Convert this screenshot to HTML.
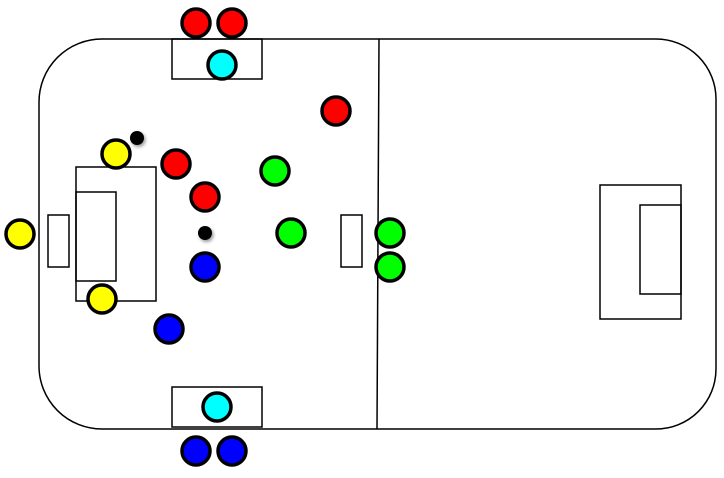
<!DOCTYPE html>
<html><head><style>body{margin:0;background:#fff}</style></head><body>
<svg width="724" height="473" viewBox="0 0 724 473" xmlns="http://www.w3.org/2000/svg">
<defs><filter id="s" x="-1" y="-1" width="3" height="3"><feDropShadow dx="1.5" dy="2" stdDeviation="1.5" flood-opacity="0.4"/></filter></defs>
<g fill="none" stroke="#000" stroke-width="1.5">
<path d="M102,39 H656 A60,60 0 0 1 716,99 V369 A60,60 0 0 1 656,429 H102 A63,63 0 0 1 39,366 V102 A63,63 0 0 1 102,39 Z"/>
<line x1="379" y1="39" x2="377" y2="429"/>
<rect x="172" y="39" width="90" height="40"/>
<rect x="172" y="387" width="90" height="40"/>
<rect x="76" y="167" width="80" height="134"/>
<rect x="76" y="192" width="40" height="89"/>
<rect x="48" y="215" width="21" height="52"/>
<rect x="341" y="215" width="21" height="52"/>
<rect x="600" y="185" width="81" height="134"/>
<rect x="640" y="205" width="41" height="89"/>
</g>
<g stroke="#000" stroke-width="3.5">
<circle cx="196" cy="23" r="14" fill="#f00"/><circle cx="232" cy="23" r="14" fill="#f00"/>
<circle cx="336" cy="111" r="14" fill="#f00"/><circle cx="176" cy="164" r="14" fill="#f00"/>
<circle cx="205" cy="197" r="14" fill="#f00"/>
<circle cx="222" cy="65" r="14" fill="#0ff"/><circle cx="217" cy="407" r="14" fill="#0ff"/>
<circle cx="116" cy="154" r="14" fill="#ff0"/><circle cx="20" cy="234" r="14" fill="#ff0"/>
<circle cx="102" cy="299" r="14" fill="#ff0"/>
<circle cx="275" cy="171" r="14" fill="#0f0"/><circle cx="291" cy="233" r="14" fill="#0f0"/>
<circle cx="390" cy="233" r="14" fill="#0f0"/><circle cx="390" cy="267" r="14" fill="#0f0"/>
<circle cx="205" cy="267" r="14" fill="#00f"/><circle cx="169" cy="329" r="14" fill="#00f"/>
<circle cx="196" cy="451" r="14" fill="#00f"/><circle cx="232" cy="451" r="14" fill="#00f"/>
</g>
<circle cx="137" cy="138" r="7" fill="#000" filter="url(#s)"/>
<circle cx="205" cy="233" r="7" fill="#000" filter="url(#s)"/>
</svg>
</body></html>
